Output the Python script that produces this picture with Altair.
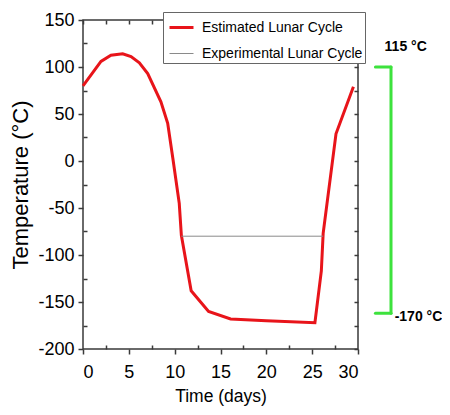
import altair as alt
import pandas as pd

# ---- data ----
est_days = [0, 1.96, 3.05, 4.33, 5.24, 6.15, 7.06, 8.5, 9.24, 9.8, 10.5, 10.73, 11.8, 13.7, 16.1, 20.0, 25.3, 26.0, 26.2, 27.6, 29.5]
est_temp = [80, 106, 112.5, 114, 111, 104.5, 93, 63, 40, 3, -45, -79, -138, -160, -168, -170, -172, -117, -77, 29, 79]
exp_days = [10.73, 26.2]
exp_temp = [-80, -80]

series_names = ["Estimated Lunar Cycle", "Experimental Lunar Cycle"]
series_colors = ["#e8141a", "#8a8a8a"]
series_widths = [3, 1]

x_major = [0, 5, 10, 15, 20, 25, 30]
x_minor = [2.5, 7.5, 12.5, 17.5, 22.5, 27.5]
x_all = [i * 2.5 for i in range(13)]
y_major = [-200, -150, -100, -50, 0, 50, 100, 150]
y_minor = [-175, -125, -75, -25, 25, 75, 125]
y_all = [-200 + 25 * i for i in range(15)]

bracket_x = [31.9, 33.6, 33.6]
bracket_x2 = [33.6, 33.6, 31.9]
bracket_y = [100, 100, -162]
bracket_y2 = [100, -162, -162]

annot_text = ["115 °C", "-170 °C"]
annot_x = [32.9, 34.0]
annot_y = [121, -166]

FONT = "Liberation Sans, Arial, sans-serif"
INK = "#3a3a3a"

# ---- tables ----
rows = []
for d, t in zip(est_days, est_temp):
    rows.append({"day": d, "temp": t, "series": series_names[0]})
for d, t in zip(exp_days, exp_temp):
    rows.append({"day": d, "temp": t, "series": series_names[1]})
lines_df = pd.DataFrame(rows)

bracket_df = pd.DataFrame({"x": bracket_x, "x2": bracket_x2, "y": bracket_y, "y2": bracket_y2})
annot_df = pd.DataFrame({"x": annot_x, "y": annot_y, "label": annot_text})

x_scale = alt.Scale(domain=[0, 30], nice=False, zero=False)
y_scale = alt.Scale(domain=[-200, 150], nice=False, zero=False)

lines = alt.Chart(lines_df).mark_line(clip=False).encode(
    x=alt.X("day:Q", scale=x_scale,
            axis=alt.Axis(orient="bottom", values=x_major, tickSize=5, labelPadding=9,
                          labelExpr="'' + datum.value",
                          title="Time (days)", titleFont=FONT, titleFontSize=17.5,
                          titleFontWeight="normal", titleColor="black", titlePadding=6)),
    y=alt.Y("temp:Q", scale=y_scale,
            axis=alt.Axis(orient="left", values=y_major, tickSize=5, labelPadding=4,
                          labelExpr="'' + datum.value",
                          title="Temperature (°C)", titleFont=FONT, titleFontSize=22,
                          titleFontWeight="normal", titleColor="black", titlePadding=5)),
    color=alt.Color("series:N", scale=alt.Scale(domain=series_names, range=series_colors), title=None),
    strokeWidth=alt.StrokeWidth("series:N", scale=alt.Scale(domain=series_names, range=series_widths), title=None),
)

bracket = alt.Chart(bracket_df).mark_rule(color="#3de23d", strokeWidth=3, strokeCap="round").encode(
    x=alt.X("x:Q", scale=x_scale,
            axis=alt.Axis(orient="bottom", values=x_minor, tickSize=4, offset=-4, labels=False,
                          domain=False, title=None)),
    x2="x2:Q",
    y=alt.Y("y:Q", scale=y_scale,
            axis=alt.Axis(orient="left", values=y_minor, tickSize=4, offset=-4, labels=False,
                          domain=False, title=None)),
    y2="y2:Q",
)

annots = alt.Chart(annot_df).mark_text(align="left", baseline="middle", font=FONT, fontSize=14,
                                      fontWeight="bold", color="black").encode(
    x=alt.X("x:Q", scale=x_scale,
            axis=alt.Axis(orient="top", values=x_all, tickSize=4, offset=-4, labels=False,
                          domain=False, title=None)),
    y=alt.Y("y:Q", scale=y_scale,
            axis=alt.Axis(orient="right", values=y_all, tickSize=4, offset=-4, labels=False,
                          domain=False, title=None)),
    text="label:N",
)

chart = alt.layer(lines, bracket, annots).resolve_axis(
    x="independent", y="independent"
).properties(
    width=275, height=329,
    autosize=alt.AutoSizeParams(type="none"),
    padding={"left": 75, "top": 12, "right": 84, "bottom": 58},
).configure_view(
    stroke=INK, strokeWidth=1.5
).configure_axis(
    domain=False, tickColor=INK, tickWidth=1.5, labelFont=FONT, labelFontSize=18,
    labelColor="black", grid=False
).configure_legend(
    orient="none", legendX=80, legendY=-8, strokeColor="#666", fillColor="white",
    padding=2, symbolType="stroke", symbolSize=576, symbolOffset=3, labelFont=FONT,
    labelFontSize=14, labelColor="black", labelOffset=7, rowPadding=6, labelLimit=0,
    cornerRadius=0
)

chart.save("out.html", embed_options={"renderer": "svg", "actions": False})
